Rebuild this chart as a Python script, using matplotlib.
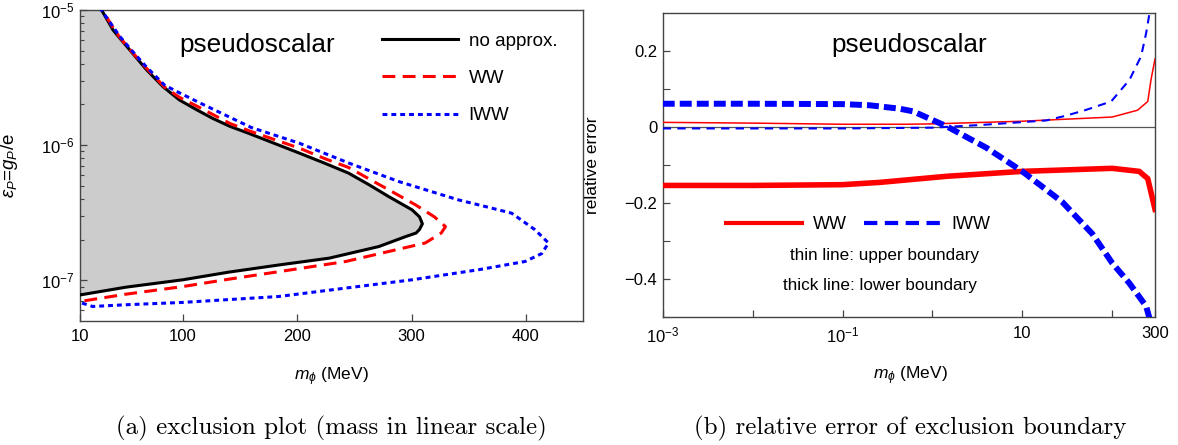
import numpy as np
import matplotlib.pyplot as plt
from matplotlib.lines import Line2D

plt.rcParams['font.family'] = ['Liberation Sans', 'DejaVu Sans']
plt.rcParams['mathtext.fontset'] = 'custom'
plt.rcParams['mathtext.rm'] = 'Liberation Sans'
plt.rcParams['mathtext.it'] = 'Liberation Sans:italic'
plt.rcParams['mathtext.bf'] = 'Liberation Sans:bold'

# (a) exclusion boundaries, upper branch then lower branch (mass in MeV)
exact_mass = [22, 28.9, 39, 44.9, 53.6, 68, 82.6, 97, 112, 126, 141, 158, 202, 224,
              245, 263, 280, 300.6, 307, 309.5, 307, 304, 295, 271.5, 228, 184, 140,
              100, 50, 10]
exact_eps = [1.32e-5, 1.0e-5, 7.1e-6, 6.18e-6, 5.06e-6, 3.63e-6, 2.71e-6, 2.16e-6,
             1.83e-6, 1.58e-6, 1.38e-6, 1.22e-6, 8.73e-7, 7.36e-7, 6.21e-7, 5.09e-7,
             4.17e-7, 3.32e-7, 2.95e-7, 2.62e-7, 2.38e-7, 2.24e-7, 2.11e-7, 1.78e-7,
             1.46e-7, 1.30e-7, 1.15e-7, 1.01e-7, 8.9e-8, 7.8e-8]

ww_mass = [22, 29.5, 40, 45, 55, 68, 84, 97, 114.6, 141, 160, 202, 225, 245, 265, 280,
           303.5, 320, 329.7, 326, 312, 286, 242.5, 184, 140, 100, 50, 10]
ww_eps = [1.35e-5, 1.0e-5, 7.16e-6, 6.25e-6, 4.95e-6, 3.72e-6, 2.69e-6, 2.26e-6,
          1.9e-6, 1.45e-6, 1.26e-6, 9.5e-7, 7.9e-7, 6.84e-7, 5.5e-7, 4.68e-7, 3.62e-7,
          2.95e-7, 2.5e-7, 2.24e-7, 1.89e-7, 1.68e-7, 1.38e-7, 1.16e-7, 1.02e-7,
          9.0e-8, 7.9e-8, 6.98e-8]

iww_mass = [22, 28, 40, 45, 55, 68, 84, 97, 114.6, 160, 201.8, 245.4, 289, 341, 365,
            387.6, 408, 419.8, 414, 399.4, 359, 300.5, 242.5, 184, 100, 50, 21, 10]
iww_eps = [1.38e-5, 1.02e-5, 7.3e-6, 6.35e-6, 5.05e-6, 3.8e-6, 2.78e-6, 2.44e-6,
           2.06e-6, 1.35e-6, 1.035e-6, 7.36e-7, 5.38e-7, 3.94e-7, 3.51e-7, 3.14e-7,
           2.37e-7, 1.89e-7, 1.58e-7, 1.38e-7, 1.20e-7, 1.01e-7, 8.77e-8, 7.6e-8,
           6.87e-8, 6.6e-8, 6.41e-8, 6.87e-8]

# (b) relative error of the boundaries
ww_up_mass = [1e-3, 1e-2, 1e-1, 0.5, 1, 10, 100, 192, 249, 271, 300]
ww_up_err = [0.013, 0.011, 0.008, 0.008, 0.009, 0.016, 0.027, 0.045, 0.068, 0.126, 0.18]

ww_low_mass = [1e-3, 1e-2, 0.1, 0.26, 1.43, 10, 100, 200, 249, 300]
ww_low_err = [-0.153, -0.153, -0.151, -0.145, -0.129, -0.116, -0.108, -0.116, -0.135, -0.216]

iww_up_mass = [1e-3, 0.1, 1, 3.4, 18.5, 30, 50, 97.5, 156, 210, 239, 259, 262]
iww_up_err = [-0.003, -0.003, -0.001, 0.006, 0.018, 0.03, 0.045, 0.068, 0.125, 0.187,
              0.248, 0.297, 0.305]

iww_low_mass = [1e-3, 1e-2, 0.1, 0.2, 0.43, 0.61, 1.43, 4, 10, 28, 60, 100, 155, 239, 262]
iww_low_err = [0.062, 0.062, 0.061, 0.058, 0.049, 0.042, 0.003, -0.054, -0.116, -0.197,
               -0.28, -0.357, -0.41, -0.471, -0.505]

spine_col = '#444444'

fig = plt.figure(figsize=(11.78, 4.45), dpi=100)
ax1 = fig.add_axes([0.0679, 0.2793, 0.4270, 0.6982])
ax2 = fig.add_axes([0.5626, 0.2870, 0.4179, 0.6831])

for ax in (ax1, ax2):
    for s in ax.spines.values():
        s.set_color(spine_col)
        s.set_linewidth(1.0)
    ax.tick_params(which='both', direction='in', colors=spine_col, labelcolor='black',
                   labelsize=12, top=False, right=False)
    ax.tick_params(which='major', length=5, width=0.9)
    ax.tick_params(which='minor', length=3, width=0.8)

# ---- (a) exclusion plot ----
ax1.set_yscale('log')
ax1.fill(np.r_[exact_mass[-1], exact_mass], np.r_[exact_eps[0], exact_eps],
         color='#cccccc', lw=0, zorder=1)
ax1.plot(exact_mass, exact_eps, color='black', lw=2.2, zorder=3, label='no approx.',
         solid_joinstyle='round')
ax1.plot(ww_mass, ww_eps, color='red', lw=2.2, ls=(0, (4.2, 2.4)), zorder=4, label='WW')
ax1.plot(iww_mass, iww_eps, color='blue', lw=2.2, ls=(0, (1.6, 1.3)), zorder=5, label='IWW')
ax1.set_xlim(10, 450)
ax1.set_ylim(5.03e-8, 1e-5)
ax1.set_xticks([10, 100, 200, 300, 400])
ax1.set_xticklabels(['10', '100', '200', '300', '400'])
ax1.tick_params(axis='x', pad=6)
ax1.tick_params(axis='y', pad=4)
ax1.set_xlabel(r'$m_\phi$ (MeV)', fontsize=12.5)
ax1.xaxis.set_label_coords(0.499, -0.143)
ax1.set_ylabel(r'$\epsilon_P$=$g_P$/e', fontsize=13.5)
ax1.yaxis.set_label_coords(-0.119, 0.5)
ax1.text(0.352, 0.887, 'pseudoscalar', transform=ax1.transAxes, fontsize=18.8,
         ha='center', va='center')
ax1.legend(loc='upper left', bbox_to_anchor=(0.600, 0.927), frameon=False, fontsize=13.5,
           handlelength=4.05, handletextpad=0.58, labelspacing=1.07, borderpad=0,
           borderaxespad=0)

# ---- (b) relative error ----
ax2.set_xscale('log')
ax2.axhline(0, color='#555555', lw=0.9, zorder=1)
ax2.plot(ww_up_mass, ww_up_err, color='red', lw=1.1, zorder=3)
ax2.plot(ww_low_mass, ww_low_err, color='red', lw=4.0, zorder=3)
ax2.plot(iww_up_mass, iww_up_err, color='blue', lw=1.5, ls=(0, (4, 3)), zorder=4)
ax2.plot(iww_low_mass, iww_low_err, color='blue', lw=4.3, ls=(0, (2.0, 0.85)), zorder=4)
ax2.set_xlim(1e-3, 300)
ax2.set_ylim(-0.5, 0.3)
ax2.set_xticks([1e-3, 1e-2, 1e-1, 1, 10, 100, 300])
ax2.set_xticklabels([r'$10^{-3}$', '', r'$10^{-1}$', '', '10', '', '300'])
ax2.xaxis.set_minor_locator(plt.NullLocator())
ax2.set_yticks([-0.4, -0.2, 0, 0.2])
ax2.set_yticklabels(['\u22120.4', '\u22120.2', '0', '0.2'])
ax2.set_yticks([-0.5, -0.3, -0.1, 0.1], minor=True)
ax2.tick_params(axis='y', which='minor', length=5)
ax2.tick_params(axis='x', pad=6)
ax2.tick_params(axis='y', pad=4)
ax2.set_xlabel(r'$m_\phi$ (MeV)', fontsize=12.5)
ax2.xaxis.set_label_coords(0.503, -0.156)
ax2.set_ylabel('relative error', fontsize=12.5)
ax2.yaxis.set_label_coords(-0.127, 0.5)
ax2.text(0.500, 0.896, 'pseudoscalar', transform=ax2.transAxes, fontsize=18.8,
         ha='center', va='center')
handles = [Line2D([], [], color='red', lw=3.0),
           Line2D([], [], color='blue', lw=3.0, ls=(0, (3.2, 1.8)))]
ax2.legend(handles, ['WW', 'IWW'], loc='center left', bbox_to_anchor=(0.128, 0.304),
           ncol=2, frameon=False, fontsize=13, handlelength=4.2, handletextpad=0.6,
           columnspacing=1.0, borderpad=0, borderaxespad=0)
ax2.text(0.451, 0.204, 'thin line: upper boundary', transform=ax2.transAxes, fontsize=12.3,
         ha='center', va='center')
ax2.text(0.442, 0.106, 'thick line: lower boundary', transform=ax2.transAxes, fontsize=12.3,
         ha='center', va='center')

# sub-captions
fig.text(331 / 1178, 1 - 428 / 445, '(a) exclusion plot (mass in linear scale)',
         fontfamily='cmr10', fontsize=18, ha='center', va='center')
fig.text(910 / 1178, 1 - 428 / 445, '(b) relative error of exclusion boundary',
         fontfamily='cmr10', fontsize=18, ha='center', va='center')

fig.savefig('out.png', dpi=100)
